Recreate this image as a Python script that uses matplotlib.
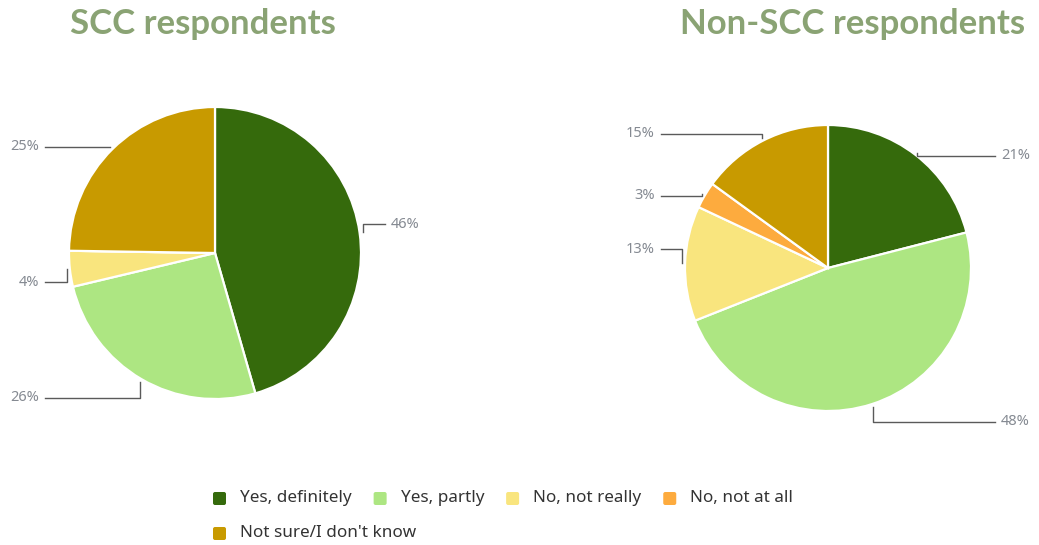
import numpy as np
import matplotlib.pyplot as plt
from matplotlib.patches import FancyBboxPatch

W, H = 1039, 545  # figure size in pixels

categories = ['Yes, definitely', 'Yes, partly', 'No, not really', 'No, not at all', 'Not sure/I don\'t know']
colors = ['#356a0c', '#ade682', '#f9e57e', '#fdab3e', '#c89a00']

scc_values = [46, 26, 4, 0, 25]
non_scc_values = [21, 48, 13, 3, 15]
titles = ['SCC respondents', 'Non-SCC respondents']

# layout (pixels, y measured from the top)
centers = [(215, 253), (828, 268)]
radii = [146, 143]
title_x = [70, 680]
label_shift = [[-8, 16, 13, 0, 0], [3, 15, -14, 2, -4]]  # nudge labels up/down


def py(y):
    return H - y


fig = plt.figure(figsize=(W / 100, H / 100), dpi=100)
ax = fig.add_axes([0, 0, 1, 1])

for k, vals in enumerate([scc_values, non_scc_values]):
    cx, cy = centers[k]
    r = radii[k]
    wedges, _ = ax.pie(vals, colors=colors, startangle=90, counterclock=False,
                       center=(cx, py(cy)), radius=r, frame=True,
                       wedgeprops=dict(edgecolor='white', linewidth=1.6))

    total = float(sum(vals))
    start = 90.0
    for i, v in enumerate(vals):
        span = 360.0 * v / total
        mid = np.deg2rad(start - span / 2)
        start -= span
        if v == 0:
            continue
        x0 = cx + (r + 3) * np.cos(mid)
        y0 = cy - (r + 3) * np.sin(mid)
        ly = y0 + label_shift[k][i]
        if np.cos(mid) >= 0:
            xe, xt, ha = cx + r + 24, cx + r + 30, 'left'
        else:
            xe, xt, ha = cx - r - 24, cx - r - 30, 'right'
        ax.plot([x0, x0, xe], [py(y0), py(ly), py(ly)], color='#5a5a5a', lw=1.0)
        ax.text(xt, py(ly), '%d%%' % v, ha=ha, va='center', fontsize=10.5,
                color='#858a92', family='Noto Sans')

    ax.text(title_x[k], py(24), titles[k], ha='left', va='center', fontsize=25,
            fontweight='bold', color='#8aa374', family='Lato')

ax.set_xlim(0, W)
ax.set_ylim(0, H)
ax.set_aspect('auto')
ax.axis('off')

# legend, laid out in a flowing row like the original
renderer = fig.canvas.get_renderer()
lx, ly = 213, 498
for name, c in zip(categories, colors):
    t = ax.text(lx + 27, py(ly), name, ha='left', va='center', fontsize=12.3,
                color='#333333', family='Noto Sans')
    w = t.get_window_extent(renderer).width
    if lx + 27 + w > 840:
        lx, ly = 213, ly + 35
        t.set_position((lx + 27, py(ly)))
    ax.add_patch(FancyBboxPatch((lx + 1, py(ly) - 6), 11, 11,
                                boxstyle='round,pad=1,rounding_size=2',
                                fc=c, ec='none'))
    lx = lx + 27 + w + 22

fig.savefig('out.png', dpi=100)
